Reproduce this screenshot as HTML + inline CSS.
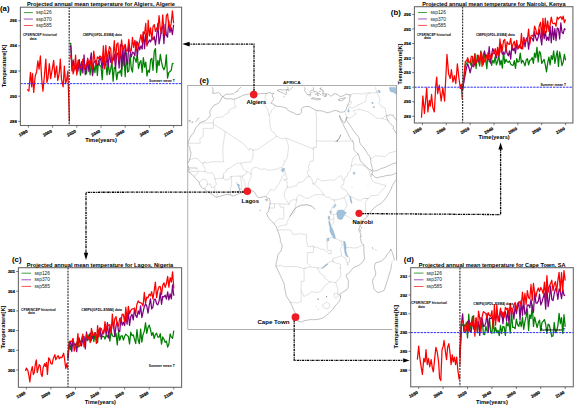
<!DOCTYPE html><html><head><meta charset="utf-8"><style>html,body{margin:0;padding:0;background:#fff;width:575px;height:407px;overflow:hidden;}svg{display:block;}text{font-family:"Liberation Sans", sans-serif;}</style></head><body>
<svg width="575" height="407" viewBox="0 0 575 407">
<rect width="575" height="407" fill="#fff"/>
<defs><clipPath id="mc"><rect x="187.8" y="85.5" width="208.9" height="244"/></clipPath></defs>
<g clip-path="url(#mc)" fill="none" stroke-linejoin="round" stroke-linecap="round">
<g stroke="#b8b8b8" stroke-width="0.42">
<path d="M234.15 99.36L234.61 100.63L234.76 105.09L236.29 107L231.09 108.91L228.64 110.19L228.94 112.73L225.27 114.33L223.13 116.87L216.7 117.51L213.43 119.74L213.43 123.02"/>
<path d="M213.43 123.02L199.66 123.02"/>
<path d="M213.43 123.02L213.43 128.34L203.24 128.34L203.24 136.46L199.87 138.69L200.18 143.21L188.09 143.21"/>
<path d="M213.43 124.2L225.18 131.53"/>
<path d="M225.18 131.53L222.82 147.45L223.13 158.6L223.74 161.78L211.5 161.78L207.22 163.06L204.46 162.1"/>
<path d="M204.46 162.1L202.02 163.38L198.96 159.87L196.2 158.28L193.75 158.28L189.47 159.87"/>
<path d="M266.28 93.46L265.66 94.9L265.05 97.13L265.36 99.04L263.83 102.22L262.91 103.5L265.05 105.41L267.5 108.91L269.03 114.96"/>
<path d="M275.15 105.41L274.54 107.64L271.48 110.19L271.17 112.42L269.03 114.96"/>
<path d="M269.03 114.96L269.95 118.79L269.64 122.61L270.25 126.75L271.17 130.57L275.15 133.75L276.68 136.3"/>
<path d="M276.68 136.3L257.71 149.36L252.97 150.16"/>
<path d="M252.97 150.16L250.06 148.09L249.45 150.32L246.08 146.81L243.63 143.95L225.18 131.53"/>
<path d="M252.97 150.16L252.97 157.32L250.67 162.1L243.94 162.42L240.66 163.38"/>
<path d="M240.66 163.38L237.82 163.06L234.15 164.97L230.47 167.83L226.8 169.11L226.5 171.34L223.44 173.57L223.13 178.03"/>
<path d="M240.66 163.38L243.02 168.79L247 171.66L246.08 173.89L242.71 176.12"/>
<path d="M250.98 173.89L251.28 171.34L252.51 168.15L256.18 167.2L260.77 169.43L264.44 168.79L269.34 170.38L276.68 169.11L280.66 167.52L281.58 168.15"/>
<path d="M247.3 171.97L248.53 171.97L250.98 173.89"/>
<path d="M281.58 168.15L287.39 157.32L288.61 146.18L285.86 137.9L282.8 139.17L276.68 136.3"/>
<path d="M285.86 137.9L313.4 149.04"/>
<path d="M316.92 110.5L315.85 111.78L316.46 115.6L316.46 141.08L316.46 147.45L313.4 147.45L313.4 149.04"/>
<path d="M316.46 141.08L336.04 141.08L336.35 141.4L341.55 141.08L352.87 141.08"/>
<path d="M313.4 149.04L313.4 161.15L310.34 161.15L308.5 166.24L309.12 170.7L308.2 171.02L306.97 172.93L308.81 176.12L310.34 177.07"/>
<path d="M287.39 187.26L291.06 187.26L293.82 185.99L296.88 185.67L298.41 182.49L301.47 182.17L304.22 180.57L306.36 177.39L308.81 176.12"/>
<path d="M284.33 169.75L285.55 172.61L286.17 176.12L287.39 179.3L283.41 179.62L287.08 181.53L287.39 187.26"/>
<path d="M283.41 171.34L284.64 174.52L281.88 177.07L280.35 180.89L279.13 183.44L277.29 185.67L275.76 188.86L273.62 190.45L270.56 189.17L269.03 191.72L266.89 195.22L265.97 196.82"/>
<path d="M248.22 191.08L248.22 185.99L248.53 182.17L250.98 178.34L250.98 173.89"/>
<path d="M244.86 191.4L245.47 191.08L244.86 182.49L244.24 180.89L242.41 178.03L242.71 176.12"/>
<path d="M243.63 191.72L241.49 189.17L241.8 185.03L241.18 180.89L240.57 177.71L239.96 176.12"/>
<path d="M242.71 176.12L239.96 176.12L236.9 176.12L231.09 176.43"/>
<path d="M231.09 176.43L231.7 180.89L231.39 185.99L230.17 189.49L230.47 194.91"/>
<path d="M231.09 176.43L228.94 179.62L225.27 179.94L223.13 178.03L220.99 178.66L218.85 178.66L216.7 178.66L214.87 178.98"/>
<path d="M214.87 178.98L215.48 181.21L216.4 184.4L214.56 186.94L214.56 190.13L217.01 193.31L217.01 197.14"/>
<path d="M214.56 186.94L211.2 187.58L210.89 184.08L208.44 184.08L207.22 184.71L204.77 189.17"/>
<path d="M207.22 184.71L207.52 182.49L205.69 179.3L202.02 179.62L199.26 182.49"/>
<path d="M214.87 178.98L213.95 174.84L212.11 172.61L208.14 173.25L205.08 171.66"/>
<path d="M205.08 171.66L198.04 171.02L198.04 172.93L194.06 176.43"/>
<path d="M188.86 171.82L198.04 171.02"/>
<path d="M205.08 171.66L205.08 168.47L202.63 164.65L204.46 162.1"/>
<path d="M188.55 167.83L192.84 167.2L197.73 168.15L197.12 168.79L193.45 168.47L188.86 169.43"/>
<path d="M223.13 178.03L223.74 175.8"/>
<path d="M358.08 153.82L354.4 157L352.87 158.28L351.65 163.38L351.34 165.6"/>
<path d="M351.34 165.6L350.43 170.7L347.98 172.93L346.75 176.75L344.92 177.39L344 180.89L343.69 184.08"/>
<path d="M343.69 184.08L340.94 186.31L342.47 188.86L345.53 189.81L347.98 193.63L349.81 196.5"/>
<path d="M313.09 183.76L315.24 183.12L317.38 178.34L321.66 180.89L325.03 180.57L330.23 179.94L334.21 180.26L337.27 177.71L340.94 175.48L341.55 177.07L343.69 180.89"/>
<path d="M308.81 176.12L310.34 177.07L311.87 179.3L313.09 183.76"/>
<path d="M313.09 183.76L314.93 184.71L316.77 186.31L320.74 190.13L323.19 193.31L323.8 194.91"/>
<path d="M323.8 194.91L320.74 194.59L317.38 194.59L314.62 194.91L311.26 196.5L308.5 198.41L304.83 197.77L302.08 196.18L299.32 194.91L296.88 197.45L296.57 200"/>
<path d="M287.39 187.26L284.94 191.08L284.33 193.95L284.64 197.77L286.17 199.68L288.92 204.14"/>
<path d="M288.92 204.14L290.45 200.96L292.9 199.68L296.57 200"/>
<path d="M269.95 203.82L274.54 203.82L279.74 203.82L284.64 204.14L288.92 204.14"/>
<path d="M268.42 207.97L274.54 207.97L274.54 203.82"/>
<path d="M279.74 203.82L280.35 207.33L283.72 207.01L283.72 211.79L284.02 215.93L283.41 219.11L279.43 218.48L276.68 220.71L273.93 223.57"/>
<path d="M296.88 200L295.65 204.78L294.43 212.74L290.76 214.97L289.53 217.52L287.39 221.34L286.47 224.85L282.8 225.48L279.74 226.12L278.21 227.08"/>
<path d="M277.29 230.26L279.74 229.94L290.45 229.94L292.9 234.4L299.32 234.08L301.16 233.44L302.69 234.4L306.67 234.4L306.67 241.41L307.89 246.82L313.09 245.87L313.4 246.19"/>
<path d="M313.4 246.19L313.4 252.56L307.28 252.56L307.28 263.07L310.95 266.89"/>
<path d="M275.92 266.09L280.96 265.3L283.41 266.57L296.57 266.57L303.91 268.48L310.95 266.89L317.07 267.84"/>
<path d="M303.91 268.48L304.22 281.22L301.16 281.22L301.16 290.14L301.16 301.6L298.1 302.88L293.2 302.56L290.3 302.24"/>
<path d="M301.16 290.14L303.91 296.51L309.12 293.96L311.56 291.73L318.3 292.69L322.27 289.82L324.11 286.32L329.92 281.86"/>
<path d="M329.92 281.86L324.72 278.04L324.72 276.44L320.13 273.26L317.38 267.84"/>
<path d="M317.38 267.84L322.58 268.16L328.39 262.11L332.98 260.84"/>
<path d="M332.98 260.84L332.98 262.11L340.63 264.34L340.33 271.67L340.94 274.85L339.41 278.04L335.74 282.49"/>
<path d="M335.74 282.49L337.88 289.18L337.88 293.64L340.63 296.83"/>
<path d="M329.92 281.86L335.74 282.49"/>
<path d="M313.4 246.19L314.62 247.78L317.38 246.82L319.52 249.05L323.19 249.37L327.17 251.6L328.7 253.83L331.15 253.83L331.15 250.01L328.7 250.64L327.48 249.05L326.86 240.45L328.7 237.9L333.9 237.59"/>
<path d="M333.9 237.59L340.63 241.09L342.16 245.23L340.63 249.37L341.55 255.74L332.37 258.93L332.98 260.84"/>
<path d="M340.94 241.09L344 241.41"/>
<path d="M341.55 255.74L343.69 257.33L345.53 257.65L347.98 265.61L347.67 262.11L349.51 262.11L349.51 257.97L347.98 256.7"/>
<path d="M345.84 247.78L349.81 247.46L354.71 248.1L357.77 247.46L360.52 246.19L363.58 244.59"/>
<path d="M343.69 214.34L355.02 220.71L359.91 226.12"/>
<path d="M330.54 214.34L343.69 214.34"/>
<path d="M333.29 214.65L334.21 218.48L333.29 218.79L334.21 221.98L331.45 225.16L329.92 225.48"/>
<path d="M328.7 215.93L329.01 218.48L329.31 221.66"/>
<path d="M328.7 220.07L331.15 220.07L333.29 218.79"/>
<path d="M344 197.77L345.53 200L347.06 205.42L345.22 208.6L344.31 210.19L343.69 214.34"/>
<path d="M334.21 200L337.57 199.68L340.94 198.73L344 197.77"/>
<path d="M334.21 200L334.82 203.51L332.07 207.33L330.84 210.83L330.54 214.34"/>
<path d="M349.81 196.5L352.87 197.14L356.55 199.68L360.83 200.32L362.97 198.41L365.42 198.41L368.17 198.41"/>
<path d="M365.42 198.41L368.17 198.73L365.42 202.23L365.42 214.02L367.26 216.56"/>
<path d="M349.81 196.5L347.98 193.95L344 197.77"/>
<path d="M368.48 198.41L371.54 195.54L374.6 195.54L377.66 195.22L386.23 185.67L374.6 182.49L371.85 179.94L370.93 176.43"/>
<path d="M370.93 176.43L369.7 174.52L369.7 171.34L365.42 166.56L362.36 164.97L359.3 164.65L357.46 165.29L355.93 163.69L353.18 165.6L351.34 165.6"/>
<path d="M370.93 176.43L372.15 174.52"/>
<path d="M369.7 171.34L371.85 170.7"/>
<path d="M323.8 194.91L326.86 197.45L329.31 197.14L331.76 199.68L334.21 200"/>
<path d="M322.58 305.43L324.11 303.51L327.17 302.24L329.31 303.51L329.92 306.06L328.39 308.29L325.95 308.61L323.8 307.66L322.58 305.43"/>
<path d="M334.21 293.96L335.74 293L337.57 293.64L338.19 296.51L335.43 298.1L334.21 296.51L334.21 293.96"/>
<path d="M344.76 111.46L346.75 117.19"/>
<path d="M347.06 117.51L350.12 118.15L353.18 115.92L356.24 114.01L353.18 110.82L359.3 109.23"/>
<path d="M348.9 111.78L348.59 109.55L348.9 107L349.51 107L352.57 108.27L358.69 104.77"/>
<path d="M358.69 104.77L365.42 101.59L366.34 97.76L366.03 95.22L369.7 92.99"/>
<path d="M350.12 96.81L351.96 93.94L356.85 93.62L362.36 93.94L365.42 92.99L369.7 92.99"/>
<path d="M349.81 100.95L351.96 102.22L349.51 105.09L347.37 105.73"/>
<path d="M359.3 109.23L368.79 112.1L376.74 118.15L382.25 118.47"/>
<path d="M382.25 118.47L385.92 115.28L386.84 115.6"/>
<path d="M382.25 118.47L388.06 120.38"/>
<path d="M386.84 115.6L385.92 112.42L385 107.96L381.03 106.05L378.88 103.18L380.11 99.99L378.88 96.81L377.05 92.67"/>
<path d="M369.7 92.99L377.05 92.67"/>
<path d="M377.05 92.67L375.82 89.16L375.52 87.57"/>
<path d="M370.93 158.92L375.21 155.73L381.64 156.37L385.31 156.69L389.29 152.86L396.02 151.27L399.08 150.63"/>
</g>
<g stroke="#6a6a6a" stroke-width="0.5">
<path d="M289.84 216.25L291.98 213.06L294.12 209.56L296.88 207.01L301.77 205.1L307.28 204.78L312.18 206.37L314.93 209.24"/>
</g>
<g stroke="#555" stroke-width="0.6">
<path d="M340.63 135.03L339.72 137.26L338.8 138.85L337.88 140.12L336.04 141.4"/>
</g>
<g stroke="#767676" stroke-width="0.45">
<path d="M339.56 115.76L339.72 116.87L340.02 118.15L341.25 120.86L342.47 122.93L343.39 124.36L343.85 125.95L344.92 128.02L346.75 131.37L348.59 135.03L349.2 136.3L350.73 139.17L351.96 140.44L352.87 141.08L353.79 144.26L353.79 148.72L354.25 150.32L355.63 151.91L356.85 153.18L358.08 153.82L359.3 157L360.22 160.51L360.68 161.46L361.75 162.1L362.97 163.69L366.03 166.24L367.56 168.15L369.4 169.43L370.62 169.75L371.85 170.7L372.46 171.66L372.46 173.25L370.93 174.2L372 174.36L373.07 175.16L375.21 177.39L377.66 177.87L380.11 176.75L382.56 176.75L385.31 175.8L388.06 175.32L390.51 175.16L393.27 174.52L395.41 173.25L396.85 173.47L396.63 177.71L397.24 178.03L395.41 180.89L394.18 182.49L392.35 185.67L391.12 188.86L389.59 192.04L388.37 194.11L386.23 197.45L383.47 200.96L380.72 203.82L378.73 204.62L376.44 206.05L373.38 208.6L370.16 212.26L367.26 216.56L365.11 218.48L362.97 220.07L362.67 221.34L361.29 224.05L359.91 226.12L359.61 227.39L358.69 230.26L360.22 232.81L360.83 235.04L360.22 237.59L360.83 239.5L361.44 243L363.89 245.23L363.89 247.78L363.89 252.56L364.5 257.33L364.2 259.56L362.05 262.75L358.99 265.3L355.02 266.89L352.87 268.16L350.73 271.03L348.59 273.26L346.6 274.37L346.14 276.44L347.67 278.99L348.59 281.54L348.28 284.4L348.28 287.11L347.06 289.5L343.39 291.73L340.63 293.64L339.72 293.8L340.63 295.87L340.33 298.74L339.41 301.29L338.03 302.88L336.35 304.47L334.82 306.22L333.14 309.09L331.45 310.84L328.7 313.39L325.33 316.25L322.58 318.17L320.74 318.64L318.3 319.28L316.46 319.44L313.4 319.76L311.56 319.44L307.74 320.08L304.22 320.71L301.16 322.08L299.02 321.35L297.49 320.71L296.48 320.59L296.26 319.44L296.33 319.19L295.65 317.53L294.89 316.25L295.96 314.98L295.04 312.43L292.9 308.29L291.67 305.11L290.3 302.24L288 298.74L286.32 296.03L285.55 292.37L284.33 286L284.33 284.25L282.65 280.42L280.35 275.49L278.21 271.03L275.92 266.09L276.07 263.7L277.14 259.56L277.6 255.74L279.43 252.56L280.96 251.12L281.88 247.78L282.19 245.23L280.35 241.41L280.35 239.18L279.43 235.67L277.6 230.26L277.29 229.62L276.22 226.44L273.62 223.25L272.55 221.98L269.64 219.43L267.5 215.93L266.58 213.22L268.42 211.79L268.88 209.88L269.34 207.97L269.8 205.26L270.25 201.75L269.64 199.68L269.34 198.25L267.5 198.09L265.97 196.82L265.36 196.5L261.84 197.14L258.63 197.61L256.48 195.86L255.26 193.31L253.42 191.08L250.36 190.61L247.3 190.93L243.63 191.63L241.8 192.68L239.35 193.47L236.29 194.91L233.53 196.02L230.47 194.91L227.72 194.27L224.66 194.91L221.6 195.86L216.4 197.23L213.64 195.54L210.89 193.63L206.91 191.08L204.77 189.17L201.71 187.58L199.42 184.08L199.26 182.49L198.04 180.89L195.59 178.66L194.06 176.43L192.22 174.52L190.39 173.25L188.86 171.97L188.71 169.75L189.16 168.31L188.55 167.2L187.33 164.65L186.41 164.33L187.63 163.69L189.47 160.19L190.39 157L191 153.5L190.08 150L189.47 149.36L190.08 147.77L188.25 145.22L187.79 144.9L187.94 143.31L188.55 141.08L190.08 137.9L191.15 135.67L194.06 132.16L194.67 130.25L195.59 128.02L198.34 125.16L200.49 122.13L204.77 121.01L205.99 120.38L208.75 117.51L209.97 115.92L210.58 114.33L209.82 113.53L209.97 110.82L211.66 108.27L213.95 105.25L216.7 104.13L219 102.86L219.76 101.9L221.14 99.04L221.91 97.13L223.74 96.81L224.97 98.72L228.03 98.88L231.09 98.72L233.23 99.36L235.98 98.72L238.12 97.45L240.27 96.81L243.94 94.9L246.69 94.58L249.14 93.94L252.2 93.62L255.57 94.1L257.71 93.94L261.07 93.62L263.83 93.62L266.89 93.46L270.25 92.35L271.17 93.94L272.4 93.31L273.77 93.05L272.4 95.22L272.55 97.13L273.77 98.08L272.86 100.63L270.87 103.18L273.31 104.13L275.15 105.41L276.99 106.36L280.35 106.36L283.41 107.32L286.17 107.96L287.39 109.87L290.76 111.78L293.51 112.73L296.57 114.64L299.94 114.33L301.47 112.42L301.31 108.91L303 107.32L305.75 106.36L309.12 106.68L310.95 107.64L313.25 108.91L316.92 110.66L321.05 110.82L323.19 111.3L327.17 112.73L331.45 111.78L332.98 110.98L334.82 110.5L337.27 110.82L338.8 111.62"/>
<path d="M338.8 111.62L339.72 112.26L341.86 112.1L343.39 111.94L344.76 111.46L345.53 110.5L346.3 108.91L347.06 106.68L347.37 105.73L348.59 103.18L349.51 101.43L349.81 99.67L349.51 98.08L350.12 96.81L349.81 95.53L350.73 94.58L348.9 94.58L348.28 94.58L345.84 93.94L344 95.53L342.47 96.01L340.33 96.49L338.8 95.85L337.88 94.74L335.74 93.94L333.9 93.62L333.29 94.9L332.07 95.69L330.54 96.01L329.01 94.58L327.48 93.94L326.25 94.26L324.72 93.94L323.8 93.31L323.19 92.35L323.19 90.44L321.05 89.16L320.44 88.21L321.05 87.57"/>
<path d="M339.56 115.76L340.02 116.87L341.55 119.1L342.78 121.33L344.76 122.83L345.22 121.97L345.53 120.38L345.99 118.79L346.75 117.19L347.06 117.03L346.91 117.67L346.45 119.74L347.37 121.65L348.59 123.24L349.2 124.04L351.5 127.54L353.94 131.37L356.39 134.39L358.08 136.3L359.3 138.53L359.76 142.67L361.44 145.54L363.12 146.97L365.57 150.32L367.56 153.82L369.4 156.05L370.16 157.32L370.93 160.51L370.62 162.42L371.39 164.01L371.85 166.24L372.31 168.79L372.92 170.86L374.6 171.02L376.44 170.54L377.66 170.38L379.19 169.75L380.57 168.63L383.78 167.83L386.84 166.56L390.21 164.97L392.96 163.69L396.63 162.74L400.61 160.83"/>
<path d="M397.86 134.71L396.94 133.75L396.02 132.8L395.41 132.32L394.49 130.57L392.96 128.66L393.57 127.7L393.27 126.43L392.04 125.16L390.82 124.2L389.29 122.61L388.06 120.38L387.15 118.79L386.53 117.51L385.92 116.87L386.84 115.76L388.37 115.76L389.9 114.64L391.43 115.28L393.27 115.28L393.88 116.87L395.1 118.15L395.71 119.42L396.94 121.01L399.08 122.61"/>
<path d="M212.42 87.57L213.03 89.16L213.03 90.44L213.03 92.03L212.57 93.31L215.48 93.31L217.32 92.67L218.69 92.67L220.38 93.94L220.68 94.9L221.91 96.17L222.82 96.49L223.59 96.01L224.97 94.9L226.5 94.26L229.25 94.26L232.46 93.85L233.23 94.2L235.06 92.35L236.96 91.39L237.82 91.39L238.43 89.48L239.35 88.53L240.57 87.73L240.88 87.25"/>
<path d="M287.7 87.25L288.31 88.21L287.85 89.32L288 90.28L289.23 90.44L290.76 88.85L292.59 87.25"/>
<path d="M304.53 87.57L305.14 89.16L304.53 90.44L305.14 91.39L306.36 93.31L306.97 93.94L308.5 95.22L308.81 93.94L309.73 94.9L310.95 95.06L310.34 93.31L309.73 91.71L310.95 90.44L311.87 90.12L313.4 90.12L313.71 89.16L313.4 87.57"/>
<path d="M277.9 90.76L278.21 89.8L280.05 89.48L280.96 89.48L282.8 90.12L286.17 89.8L287.85 89.26L286.47 90.92L286.17 92.03L286.78 93.31L286.17 94.42L284.33 93.94L283.41 92.99L281.27 92.35L278.52 91.23L277.9 90.76Z"/>
<path d="M311.87 98.72L312.18 97.76L314.32 97.92L316.46 98.4L318.91 98.72L320.44 98.72L320.13 99.67L316.46 99.83L313.4 99.04L311.87 98.72Z"/>
<path d="M338.8 99.99L338.8 99.36L340.94 98.56L344 98.08L345.68 97.45L344 99.52L340.94 100.95L339.1 100.47L338.8 99.99Z"/>
<path d="M324.72 96.17L326.25 95.06L326.25 96.17L325.03 96.81L324.72 96.17Z"/>
<path d="M390.82 249.37L391.74 250.96L392.65 253.51L393.57 256.7L394.49 259.88L393.57 261.79L392.35 260.84L392.04 263.7L391.12 266.25L391.12 268.48L389.9 271.67L388.68 276.44L386.84 281.86L385.62 286L384.09 290.46L381.64 291.41L377.97 292.69L375.52 290.77L373.99 289.18L373.38 285.36L372.46 281.86L373.07 278.99L374.91 276.44L375.82 273.26L374.6 268.48L374.6 265.3L375.82 262.75L378.27 262.11L381.03 261.15L383.78 258.93L386.23 256.7L386.84 254.47L389.29 252.24L390.82 249.37Z"/>
<path d="M283.72 96.65L284.48 96.97"/>
<path d="M314.62 92.03L314.93 92.19"/>
<path d="M317.07 93.15L317.84 92.99"/>
<path d="M317.38 93.62L317.99 93.78"/>
<path d="M316.15 94.1L316.77 94.26"/>
<path d="M320.44 94.58L321.05 94.74"/>
<path d="M322.58 95.06L323.5 95.22"/>
<path d="M322.27 93.62L322.89 93.46"/>
<path d="M313.4 91.39L314.01 91.55"/>
<path d="M311.56 92.35L312.18 92.51"/>
<path d="M309.73 95.85L310.34 96.01"/>
<path d="M317.68 95.22L318.6 95.38"/>
<path d="M319.52 91.39L320.44 91.08"/>
<path d="M325.33 94.26L325.95 94.1"/>
<path d="M316.15 91.71L316.77 92.03"/>
<path d="M317.68 92.99L318.3 93.31"/>
<path d="M314.62 91.08L315.24 91.39"/>
<path d="M319.21 93.62L319.83 93.94"/>
<path d="M322.27 91.08L322.89 91.39"/>
<path d="M321.05 89.48L319.83 88.85L320.44 88.21"/>
<path d="M315.24 94.26L315.85 94.58"/>
<path d="M317.38 95.22L317.99 95.53"/>
<path d="M322.89 93.62L323.5 93.94"/>
<path d="M197.43 119.1L198.96 118.15"/>
<path d="M195.9 121.65L197.43 119.74"/>
<path d="M191.61 122.29L192.84 121.65L192.53 122.61"/>
<path d="M188.25 121.01L190.39 120.06L189.78 121.97"/>
<path d="M265.82 199.37L267.19 199.21L267.35 200.64L266.28 200.96L265.82 199.37"/>
<path d="M359.91 229.46L360.83 231.53"/>
<path d="M361.29 226.76L361.75 228.35"/>
<path d="M361.14 235.99L361.75 236.63"/>
<path d="M372.46 247.46L373.07 249.05"/>
<path d="M375.52 249.69L376.13 250.33"/>
<path d="M259.85 211.15L260.46 209.88"/>
</g>
<g fill="#9fc2df" stroke="#6f93b5" stroke-width="0.35">
<path d="M336.66 213.06L337.88 210.51L339.72 210.19L341.86 209.88L344 210.83L344.31 212.11L346.45 212.58L344.92 214.34L343.39 216.56L342.47 218.79L340.94 219.43L338.49 219.11L337.27 216.88L336.96 214.34Z"/>
<path d="M329.01 221.66L329.92 221.98L330.54 225.48L332.37 228.67L333.6 231.85L334.51 234.4L335.43 238.22L334.51 238.86L333.29 237.27L331.45 234.4L329.92 230.9L329.92 227.08L329.01 223.89Z"/>
<path d="M344 241.41L344.92 241.73L345.84 244.59L346.14 247.78L345.84 250.64L346.75 254.15L347.98 256.7L347.37 257.01L345.53 255.1L344.92 252.56L344.31 249.37L344 246.19L343.69 243.64Z"/>
<path d="M350.12 196.5L350.73 197.14L351.34 200L351.96 202.23L351.65 203.51L350.73 201.59L350.12 199.05Z"/>
<path d="M333.29 207.33L335.74 204.14L336.04 205.1L333.9 207.97Z"/>
<path d="M330.23 211.47L331.45 211.47L331.15 213.06L330.23 212.74Z"/>
<path d="M328.7 216.56L329.62 216.56L329.62 219.11L328.39 218.79Z"/>
<path d="M327.17 238.54L328.7 238.22L329.01 240.45L327.78 241.09Z"/>
<path d="M321.97 268.16L324.11 265.93L327.17 264.02L328.09 263.7L326.56 265.3L323.19 267.84Z"/>
<path d="M239.65 191.08L240.27 188.86L239.04 187.26L239.35 184.71L236.9 183.76L238.12 186.31L239.04 188.86Z"/>
<path d="M281.27 170.38L282.8 168.15L284.64 168.47L284.02 170.38L282.8 171.66Z"/>
<path d="M353.49 172.29L354.71 172.29L355.02 173.89L353.79 174.2Z"/>
<path d="M389.59 87.57L389.59 88.85L389.9 90.12L390.51 91.39L392.65 92.03L394.18 92.83L396.02 94.1L399.08 94.58L399.08 87.57Z"/>
<path d="M377.97 90.44L379.5 90.44L380.41 92.03L379.5 92.99L378.58 92.03Z"/>
<path d="M348.28 109.87L348.9 109.87L348.74 112.1L348.28 112.1Z"/>
<path d="M371.85 102.54L373.07 102.54L373.07 103.82L372.15 103.5Z"/>
<path d="M373.38 106.68L374.6 106.68L374.29 107.64L373.38 107.32Z"/>
</g>
<circle cx="318.1" cy="299.1" r="0.6" fill="#444"/>
<circle cx="326.5" cy="296.7" r="0.5" fill="#444"/>
<circle cx="318.6" cy="308.9" r="0.3" fill="#444"/>
<circle cx="316.2" cy="306.5" r="0.3" fill="#444"/>
<circle cx="337.3" cy="141" r="0.4" fill="#444"/>
<circle cx="236.6" cy="182.5" r="0.35" fill="#444"/>
<circle cx="284" cy="161" r="0.3" fill="#444"/>
<circle cx="352" cy="187" r="0.3" fill="#444"/>
<circle cx="368" cy="186" r="0.25" fill="#444"/>
<circle cx="303" cy="200" r="0.25" fill="#444"/>
<circle cx="340" cy="268" r="0.3" fill="#444"/>
<circle cx="305" cy="268" r="0.25" fill="#444"/>
</g>
<rect x="187.8" y="85.5" width="208.9" height="244" fill="none" stroke="#8c8c8c" stroke-width="0.7"/>
<text x="199.4" y="82.9" font-size="7.8" font-weight="bold">(e)</text>
<text x="282.9" y="84.1" font-size="3.9" font-weight="bold" textLength="17.7" lengthAdjust="spacingAndGlyphs">AFRICA</text>
<rect x="392.3" y="260.5" width="12" height="73" fill="#fff"/>
<g>
<defs><clipPath id="ca"><rect x="20.4" y="7.2" width="161.2" height="118.3"/></clipPath></defs>
<g clip-path="url(#ca)" fill="none" stroke-linejoin="round">
<polyline stroke="#ff0000" stroke-width="1.25" points="27.19,89.32 28.88,91.2 30.46,72.32 31.67,86.8 32.51,73.58 33.72,92.46 35.18,76.1 36.63,71.69 37.84,60.99 39.05,69.17 40.38,55.95 41.59,77.36 42.92,91.2 44.25,77.36 45.82,59.1 46.91,82.39 47.88,78.61 49.33,63.51 50.66,78.61 51.87,71.69 53.69,60.36 54.9,77.36 56.59,66.02 57.8,80.5 59.25,72.95 60.34,59.1 61.55,79.87 63.13,86.8 64.34,66.02 65.55,83.65 66.64,79.87 67.85,71.06 68.45,89.95 69.42,121.42"/>
<polyline stroke="#008000" stroke-width="1.25" points="70.02,43.36 70.75,43.33 71.96,64.31 73.17,68.83 74.38,69.28 75.59,65.93 76.8,73.17 78.01,63.25 79.22,59.71 80.43,75.26 81.64,68.7 82.85,63.19 84.06,66.3 85.27,67.24 86.48,73.84 87.69,62.59 88.9,62.89 90.11,74.78 91.32,61.56 92.53,74.33 93.74,65.51 94.95,72.54 96.16,61.41 97.37,75.44 98.58,60.51 99.79,65.67 101,66.16 102.21,79.62 103.42,60.37 104.63,65.42 105.84,64.39 107.05,74.88 108.26,62.56 109.47,74.33 110.68,69.41 111.89,61.47 113.1,81.09 114.31,67.69 115.52,68.07 116.73,79.7 117.94,72.09 119.15,72.86 120.36,70.23 121.57,76.13 122.78,56.94 123.99,57.9 125.2,76.64 126.41,52.99 127.62,72.09 128.83,71.05 130.04,54.57 131.25,68.31 132.46,72.13 133.67,56.54 134.88,58.38 136.09,62.39 137.3,54.57 138.51,68.54 139.72,62.78 140.93,60.57 142.14,72.33 143.35,57.54 144.56,67.25 145.77,62.06 146.98,76 148.19,70.22 149.4,72.26 150.61,59.71 151.82,58.33 153.03,70.32 154.24,51.37 155.45,48.58 156.66,72.49 157.87,60.35 159.08,65.56 160.29,54.45 161.5,61.91 162.71,67.09 163.92,69.83 165.13,66.56 166.34,54.86 167.55,78.18 168.76,72.68 169.97,71.47 171.18,70.35 172.39,63.68 173.6,63.36"/>
<polyline stroke="#800080" stroke-width="1.25" points="70.02,45.88 70.75,46.11 71.96,70.92 73.17,59.97 74.38,69.02 75.59,68.35 76.8,64.18 78.01,71.18 79.22,59.9 80.43,69.21 81.64,61.61 82.85,72.98 84.06,54.94 85.27,74.68 86.48,67.06 87.69,60.14 88.9,71.51 90.11,60.55 91.32,52.87 92.53,75.74 93.74,63 94.95,61.13 96.16,60.63 97.37,65.93 98.58,63.36 99.79,56.99 101,60.9 102.21,68.01 103.42,56.35 104.63,60.82 105.84,64.86 107.05,55.93 108.26,66.82 109.47,51.53 110.68,62.4 111.89,58.07 113.1,60.37 114.31,54.42 115.52,68.36 116.73,53.97 117.94,53 119.15,68.05 120.36,44.69 121.57,69.49 122.78,45.41 123.99,65.76 125.2,45.75 126.41,59.45 127.62,64.32 128.83,43.56 130.04,51.47 131.25,57.21 132.46,52.09 133.67,52.72 134.88,55.81 136.09,41.41 137.3,56.72 138.51,44.65 139.72,49.81 140.93,45.92 142.14,49.14 143.35,32.16 144.56,48.67 145.77,34.08 146.98,44.73 148.19,42.7 149.4,40 150.61,41.87 151.82,37.64 153.03,39.7 154.24,36.51 155.45,45.02 156.66,35.62 157.87,23.45 159.08,43.9 160.29,37.55 161.5,28.01 162.71,26.19 163.92,43.71 165.13,24.29 166.34,34.9 167.55,37.16 168.76,20.7 169.97,32.33 171.18,27.63 172.39,34.7 173.6,24.77"/>
<polyline stroke="#ff0000" stroke-width="1.25" points="70.02,55.95 70.75,55.96 71.96,62.87 73.17,73.91 74.38,69.08 75.59,55.03 76.8,75.06 78.01,60.45 79.22,67.07 80.43,67.49 81.64,66.53 82.85,59.04 84.06,69.06 85.27,64.86 86.48,65.49 87.69,58.14 88.9,64.1 90.11,60.47 91.32,67.21 92.53,68.6 93.74,51.09 94.95,60.23 96.16,64.75 97.37,56.94 98.58,58.28 99.79,55.93 101,56.84 102.21,61.9 103.42,45.82 104.63,68.79 105.84,45.42 107.05,60.09 108.26,53.09 109.47,46.67 110.68,48.85 111.89,64.06 113.1,55.47 114.31,40.74 115.52,61.87 116.73,44.07 117.94,42.85 119.15,60.55 120.36,54.18 121.57,39.95 122.78,50.09 123.99,47.97 125.2,44.3 126.41,51.15 127.62,50.47 128.83,39.28 130.04,51.33 131.25,51 132.46,37.47 133.67,47.53 134.88,40.36 136.09,50.7 137.3,41.92 138.51,46.12 139.72,40.53 140.93,34.58 142.14,42.65 143.35,31.97 144.56,33.8 145.77,23.27 146.98,46.02 148.19,20.21 149.4,35.84 150.61,27.94 151.82,40.25 153.03,26.65 154.24,24.63 155.45,31.43 156.66,27.97 157.87,30.02 159.08,15.72 160.29,28.71 161.5,33.55 162.71,14.89 163.92,31.2 165.13,35.33 166.34,15.82 167.55,13.8 168.76,25.47 169.97,28.99 171.18,23.43 172.39,10.87 173.6,23.24"/>
</g>
<line x1="20.4" y1="83.65" x2="181.6" y2="83.65" stroke="#2a2aff" stroke-width="1.0" stroke-dasharray="2.3,1.0"/>
<line x1="69.2" y1="7.2" x2="69.2" y2="125.5" stroke="#333" stroke-width="1.2" stroke-dasharray="1.9,1.05"/>
<rect x="20.4" y="7.2" width="161.2" height="118.3" fill="none" stroke="#6a6a6a" stroke-width="1.1"/>
<line x1="18.2" y1="20.7" x2="20.4" y2="20.7" stroke="#444" stroke-width="0.7"/>
<text x="17" y="22.25" font-size="4.4" font-weight="bold" text-anchor="end" stroke="#000" stroke-width="0.12">296</text>
<line x1="18.2" y1="45.88" x2="20.4" y2="45.88" stroke="#444" stroke-width="0.7"/>
<text x="17" y="47.43" font-size="4.4" font-weight="bold" text-anchor="end" stroke="#000" stroke-width="0.12">294</text>
<line x1="18.2" y1="71.06" x2="20.4" y2="71.06" stroke="#444" stroke-width="0.7"/>
<text x="17" y="72.61" font-size="4.4" font-weight="bold" text-anchor="end" stroke="#000" stroke-width="0.12">292</text>
<line x1="18.2" y1="96.24" x2="20.4" y2="96.24" stroke="#444" stroke-width="0.7"/>
<text x="17" y="97.79" font-size="4.4" font-weight="bold" text-anchor="end" stroke="#000" stroke-width="0.12">290</text>
<line x1="18.2" y1="121.42" x2="20.4" y2="121.42" stroke="#444" stroke-width="0.7"/>
<text x="17" y="122.97" font-size="4.4" font-weight="bold" text-anchor="end" stroke="#000" stroke-width="0.12">288</text>
<line x1="28.4" y1="125.5" x2="28.4" y2="127.7" stroke="#444" stroke-width="0.7"/>
<text transform="translate(28 132) rotate(-30)" x="0" y="0" font-size="4.3" font-weight="bold" text-anchor="end" stroke="#000" stroke-width="0.15">1980</text>
<line x1="52.6" y1="125.5" x2="52.6" y2="127.7" stroke="#444" stroke-width="0.7"/>
<text transform="translate(52.2 132) rotate(-30)" x="0" y="0" font-size="4.3" font-weight="bold" text-anchor="end" stroke="#000" stroke-width="0.15">2000</text>
<line x1="76.8" y1="125.5" x2="76.8" y2="127.7" stroke="#444" stroke-width="0.7"/>
<text transform="translate(76.4 132) rotate(-30)" x="0" y="0" font-size="4.3" font-weight="bold" text-anchor="end" stroke="#000" stroke-width="0.15">2020</text>
<line x1="101" y1="125.5" x2="101" y2="127.7" stroke="#444" stroke-width="0.7"/>
<text transform="translate(100.6 132) rotate(-30)" x="0" y="0" font-size="4.3" font-weight="bold" text-anchor="end" stroke="#000" stroke-width="0.15">2040</text>
<line x1="125.2" y1="125.5" x2="125.2" y2="127.7" stroke="#444" stroke-width="0.7"/>
<text transform="translate(124.8 132) rotate(-30)" x="0" y="0" font-size="4.3" font-weight="bold" text-anchor="end" stroke="#000" stroke-width="0.15">2060</text>
<line x1="149.4" y1="125.5" x2="149.4" y2="127.7" stroke="#444" stroke-width="0.7"/>
<text transform="translate(149 132) rotate(-30)" x="0" y="0" font-size="4.3" font-weight="bold" text-anchor="end" stroke="#000" stroke-width="0.15">2080</text>
<line x1="173.6" y1="125.5" x2="173.6" y2="127.7" stroke="#444" stroke-width="0.7"/>
<text transform="translate(173.2 132) rotate(-30)" x="0" y="0" font-size="4.3" font-weight="bold" text-anchor="end" stroke="#000" stroke-width="0.15">2100</text>
<text x="0" y="11.3" font-size="7.8" font-weight="bold">(a)</text>
<text x="27" y="5.6" font-size="5.1" font-weight="bold" textLength="148" lengthAdjust="spacingAndGlyphs">Projected annual mean temperature for Algiers, Algerie</text>
<line x1="23.8" y1="12.6" x2="32.9" y2="12.6" stroke="#40a040" stroke-width="1.0"/>
<text x="36" y="14.2" font-size="4.8" fill="#222" textLength="15.6" lengthAdjust="spacingAndGlyphs">ssp126</text>
<line x1="23.8" y1="19.05" x2="32.9" y2="19.05" stroke="#a050c0" stroke-width="1.0"/>
<text x="36" y="20.65" font-size="4.8" fill="#222" textLength="15.6" lengthAdjust="spacingAndGlyphs">ssp370</text>
<line x1="23.8" y1="25.5" x2="32.9" y2="25.5" stroke="#ff5050" stroke-width="1.0"/>
<text x="36" y="27.1" font-size="4.8" fill="#222" textLength="15.6" lengthAdjust="spacingAndGlyphs">ssp585</text>
<text x="23" y="36.4" font-size="3.3" font-weight="bold" textLength="33.9" lengthAdjust="spacingAndGlyphs">CFSR/NCEP historical</text>
<text x="29.7" y="39.6" font-size="3.3" font-weight="bold">data</text>
<text x="82.7" y="36.2" font-size="3.3" font-weight="bold" textLength="39.1" lengthAdjust="spacingAndGlyphs">CMIP6(GFDL-ESM4) data</text>
<text x="149" y="82.4" font-size="3.3" font-weight="bold" textLength="25.7" lengthAdjust="spacingAndGlyphs">Summer mean T</text>
<text transform="translate(6 65.9) rotate(-90)" x="0" y="0" font-size="4.7" font-weight="bold" text-anchor="middle" textLength="42.8" lengthAdjust="spacingAndGlyphs">Temperature[K]</text>
<text x="85.2" y="142.1" font-size="5.0" font-weight="bold" textLength="31.7" lengthAdjust="spacingAndGlyphs">Time(years)</text>
</g>
<g>
<defs><clipPath id="cb"><rect x="414.4" y="6.7" width="158.5" height="116.3"/></clipPath></defs>
<g clip-path="url(#cb)" fill="none" stroke-linejoin="round">
<polyline stroke="#ff0000" stroke-width="1.25" points="421.45,117.78 422.88,95.94 424.43,113.41 425.38,103.22 426.7,87.93 427.89,111.95 429.32,100.3 430.28,106.13 431.59,94.48 432.78,107.58 434.33,111.95 435.77,85.74 436.72,77.01 437.67,93.75 439.23,85.02 441.14,101.03 442.81,87.93 444.6,101.03 446.98,54.44 448.65,74.1 450.2,78.46 451.4,69.73 452.95,82.1 454.38,75.55 455.81,83.56 457.36,63.9 458.8,77.01 460.35,88.66 461.3,84.29 462.26,99.58"/>
<polyline stroke="#008000" stroke-width="1.25" points="462.5,90.11 464.17,76.99 465.36,64.99 466.55,64.03 467.75,60.7 468.94,62.01 470.13,62.64 471.33,65.9 472.52,57.39 473.71,64.95 474.91,53.63 476.1,68.53 477.29,55 478.49,61.15 479.68,65.98 480.87,50.8 482.07,59.82 483.26,64.77 484.45,53.16 485.65,59.62 486.84,68.58 488.03,52.26 489.23,61.72 490.42,58.87 491.61,65.43 492.81,60.19 494,63.1 495.19,56.59 496.39,64.81 497.58,61.53 498.77,54.81 499.97,65.05 501.16,60.27 502.35,68.07 503.55,51.77 504.74,63.38 505.93,59.37 507.13,61.64 508.32,62.24 509.51,60.87 510.71,64.19 511.9,65.07 513.09,65.33 514.29,60.56 515.48,68.31 516.67,58.57 517.87,62.19 519.06,61.53 520.25,53.19 521.45,63.08 522.64,60.28 523.83,62.68 525.03,65.77 526.22,59.95 527.41,58.61 528.61,64.83 529.8,60.43 530.99,59.73 532.19,57.48 533.38,63.32 534.57,53.03 535.77,57.68 536.96,47.25 538.15,61.84 539.35,51.34 540.54,53.36 541.73,63.36 542.93,61.3 544.12,59.44 545.31,64.92 546.51,71.8 547.7,62.58 548.89,57.01 550.09,64.82 551.28,55.73 552.47,59.5 553.67,50.95 554.86,63.32 556.05,56.65 557.25,50.75 558.44,66.33 559.63,51.82 560.83,58.43 562.02,65.61 563.21,62.12 564.41,54.35 565.6,60.36"/>
<polyline stroke="#800080" stroke-width="1.25" points="462.5,90.11 464.17,80.04 465.36,73.82 466.55,67.34 467.75,63.87 468.94,67.7 470.13,72.87 471.33,67.47 472.52,65.81 473.71,62.37 474.91,65.31 476.1,60.36 477.29,60.33 478.49,61.36 479.68,58.14 480.87,57.78 482.07,59.95 483.26,55.81 484.45,50.84 485.65,56.31 486.84,55.19 488.03,59.6 489.23,46.55 490.42,63.07 491.61,54.4 492.81,48.49 494,51.97 495.19,54.24 496.39,57.81 497.58,49.64 498.77,56.46 499.97,48.47 501.16,44.6 502.35,54.18 503.55,53.31 504.74,54.07 505.93,48.51 507.13,53.29 508.32,55.79 509.51,50.87 510.71,59.05 511.9,45.78 513.09,50.67 514.29,48.09 515.48,53.5 516.67,43.89 517.87,49.02 519.06,45.76 520.25,44.42 521.45,48.87 522.64,46.33 523.83,37.46 525.03,46.96 526.22,39.14 527.41,37.35 528.61,49.22 529.8,38.43 530.99,37.6 532.19,38.47 533.38,41.18 534.57,31.69 535.77,37.82 536.96,40.85 538.15,37.33 539.35,29.91 540.54,37.25 541.73,44.94 542.93,27.73 544.12,38.8 545.31,31.46 546.51,40.38 547.7,37.2 548.89,40.51 550.09,26.46 551.28,42.8 552.47,26.29 553.67,39.7 554.86,28.59 556.05,40.66 557.25,28 558.44,28.74 559.63,39.05 560.83,22.89 562.02,32.29 563.21,33.6 564.41,28.67 565.6,29.62"/>
<polyline stroke="#ff0000" stroke-width="1.25" points="462.5,88.66 464.17,74.29 465.36,61.42 466.55,60.78 467.75,57.75 468.94,62.65 470.13,62.67 471.33,56.25 472.52,56.28 473.71,66.95 474.91,54.22 476.1,63.23 477.29,60.87 478.49,55.45 479.68,63.72 480.87,52 482.07,66.43 483.26,53.89 484.45,61.81 485.65,60.43 486.84,54.82 488.03,59.84 489.23,52.74 490.42,57.37 491.61,58.55 492.81,52.99 494,53.29 495.19,48.68 496.39,55.81 497.58,47.36 498.77,55.28 499.97,38.76 501.16,52.64 502.35,49.46 503.55,40.73 504.74,39.42 505.93,51.41 507.13,41.93 508.32,43.86 509.51,44.42 510.71,38.29 511.9,48.24 513.09,43.95 514.29,41.33 515.48,48.91 516.67,40.39 517.87,48.07 519.06,46.38 520.25,48.14 521.45,33.47 522.64,48.99 523.83,38.46 525.03,42.26 526.22,40.35 527.41,39.27 528.61,29.05 529.8,44.1 530.99,36.02 532.19,35.18 533.38,36.97 534.57,26.17 535.77,29.36 536.96,34.58 538.15,33.25 539.35,25.58 540.54,22.42 541.73,37.47 542.93,18.27 544.12,33.49 545.31,18.06 546.51,32.19 547.7,21 548.89,31.27 550.09,24.72 551.28,17.08 552.47,23.06 553.67,23.7 554.86,23.08 556.05,26.23 557.25,17.13 558.44,19.05 559.63,17.23 560.83,16.71 562.02,19.58 563.21,16.19 564.41,22.58 565.6,19.42"/>
</g>
<line x1="414.4" y1="87.2" x2="572.9" y2="87.2" stroke="#2a2aff" stroke-width="1.0" stroke-dasharray="2.3,1.0"/>
<line x1="462.6" y1="6.7" x2="462.6" y2="123" stroke="#333" stroke-width="1.2" stroke-dasharray="1.9,1.05"/>
<rect x="414.4" y="6.7" width="158.5" height="116.3" fill="none" stroke="#6a6a6a" stroke-width="1.1"/>
<line x1="412.2" y1="14.4" x2="414.4" y2="14.4" stroke="#444" stroke-width="0.7"/>
<text x="411" y="15.95" font-size="4.4" font-weight="bold" text-anchor="end" stroke="#000" stroke-width="0.12">296</text>
<line x1="412.2" y1="28.96" x2="414.4" y2="28.96" stroke="#444" stroke-width="0.7"/>
<text x="411" y="30.51" font-size="4.4" font-weight="bold" text-anchor="end" stroke="#000" stroke-width="0.12">295</text>
<line x1="412.2" y1="43.52" x2="414.4" y2="43.52" stroke="#444" stroke-width="0.7"/>
<text x="411" y="45.07" font-size="4.4" font-weight="bold" text-anchor="end" stroke="#000" stroke-width="0.12">294</text>
<line x1="412.2" y1="58.08" x2="414.4" y2="58.08" stroke="#444" stroke-width="0.7"/>
<text x="411" y="59.63" font-size="4.4" font-weight="bold" text-anchor="end" stroke="#000" stroke-width="0.12">293</text>
<line x1="412.2" y1="72.64" x2="414.4" y2="72.64" stroke="#444" stroke-width="0.7"/>
<text x="411" y="74.19" font-size="4.4" font-weight="bold" text-anchor="end" stroke="#000" stroke-width="0.12">292</text>
<line x1="412.2" y1="87.2" x2="414.4" y2="87.2" stroke="#444" stroke-width="0.7"/>
<text x="411" y="88.75" font-size="4.4" font-weight="bold" text-anchor="end" stroke="#000" stroke-width="0.12">291</text>
<line x1="412.2" y1="101.76" x2="414.4" y2="101.76" stroke="#444" stroke-width="0.7"/>
<text x="411" y="103.31" font-size="4.4" font-weight="bold" text-anchor="end" stroke="#000" stroke-width="0.12">290</text>
<line x1="412.2" y1="116.32" x2="414.4" y2="116.32" stroke="#444" stroke-width="0.7"/>
<text x="411" y="117.87" font-size="4.4" font-weight="bold" text-anchor="end" stroke="#000" stroke-width="0.12">289</text>
<line x1="422.4" y1="123" x2="422.4" y2="125.2" stroke="#444" stroke-width="0.7"/>
<text transform="translate(422 129.5) rotate(-30)" x="0" y="0" font-size="4.3" font-weight="bold" text-anchor="end" stroke="#000" stroke-width="0.15">1980</text>
<line x1="446.27" y1="123" x2="446.27" y2="125.2" stroke="#444" stroke-width="0.7"/>
<text transform="translate(445.87 129.5) rotate(-30)" x="0" y="0" font-size="4.3" font-weight="bold" text-anchor="end" stroke="#000" stroke-width="0.15">2000</text>
<line x1="470.13" y1="123" x2="470.13" y2="125.2" stroke="#444" stroke-width="0.7"/>
<text transform="translate(469.73 129.5) rotate(-30)" x="0" y="0" font-size="4.3" font-weight="bold" text-anchor="end" stroke="#000" stroke-width="0.15">2020</text>
<line x1="494" y1="123" x2="494" y2="125.2" stroke="#444" stroke-width="0.7"/>
<text transform="translate(493.6 129.5) rotate(-30)" x="0" y="0" font-size="4.3" font-weight="bold" text-anchor="end" stroke="#000" stroke-width="0.15">2040</text>
<line x1="517.87" y1="123" x2="517.87" y2="125.2" stroke="#444" stroke-width="0.7"/>
<text transform="translate(517.47 129.5) rotate(-30)" x="0" y="0" font-size="4.3" font-weight="bold" text-anchor="end" stroke="#000" stroke-width="0.15">2060</text>
<line x1="541.73" y1="123" x2="541.73" y2="125.2" stroke="#444" stroke-width="0.7"/>
<text transform="translate(541.33 129.5) rotate(-30)" x="0" y="0" font-size="4.3" font-weight="bold" text-anchor="end" stroke="#000" stroke-width="0.15">2080</text>
<line x1="565.6" y1="123" x2="565.6" y2="125.2" stroke="#444" stroke-width="0.7"/>
<text transform="translate(565.2 129.5) rotate(-30)" x="0" y="0" font-size="4.3" font-weight="bold" text-anchor="end" stroke="#000" stroke-width="0.15">2100</text>
<text x="390.8" y="14.9" font-size="7.8" font-weight="bold">(b)</text>
<text x="422.3" y="5.6" font-size="5.1" font-weight="bold" textLength="143.2" lengthAdjust="spacingAndGlyphs">Projected annual mean temperature for Nairobi, Kenya</text>
<line x1="418.1" y1="12.5" x2="426.9" y2="12.5" stroke="#40a040" stroke-width="1.0"/>
<text x="430.4" y="14.1" font-size="4.8" fill="#222" textLength="15.6" lengthAdjust="spacingAndGlyphs">ssp126</text>
<line x1="418.1" y1="18.95" x2="426.9" y2="18.95" stroke="#a050c0" stroke-width="1.0"/>
<text x="430.4" y="20.55" font-size="4.8" fill="#222" textLength="15.6" lengthAdjust="spacingAndGlyphs">ssp370</text>
<line x1="418.1" y1="25.4" x2="426.9" y2="25.4" stroke="#ff5050" stroke-width="1.0"/>
<text x="430.4" y="27" font-size="4.8" fill="#222" textLength="15.6" lengthAdjust="spacingAndGlyphs">ssp585</text>
<text x="417" y="35.9" font-size="3.3" font-weight="bold" textLength="34" lengthAdjust="spacingAndGlyphs">CFSR/NCEP historical</text>
<text x="424" y="39.1" font-size="3.3" font-weight="bold">data</text>
<text x="475.9" y="36.1" font-size="3.3" font-weight="bold" textLength="38.9" lengthAdjust="spacingAndGlyphs">CMIP6(GFDL-ESM4) data</text>
<text x="540.4" y="85.5" font-size="3.3" font-weight="bold" textLength="25.6" lengthAdjust="spacingAndGlyphs">Summer mean T</text>
<text transform="translate(402.1 64.1) rotate(-90)" x="0" y="0" font-size="4.7" font-weight="bold" text-anchor="middle" textLength="40.8" lengthAdjust="spacingAndGlyphs">Temperature[K]</text>
<text x="478.5" y="139" font-size="5.0" font-weight="bold" textLength="31.2" lengthAdjust="spacingAndGlyphs">Time(years)</text>
</g>
<g>
<defs><clipPath id="cc"><rect x="18.4" y="267.7" width="163.2" height="119.6"/></clipPath></defs>
<g clip-path="url(#cc)" fill="none" stroke-linejoin="round">
<polyline stroke="#ff0000" stroke-width="1.25" points="25.44,370.99 26.42,368.03 27.9,370.59 28.88,375.52 29.86,381.82 30.97,371.97 32.32,366.65 33.31,374.53 34.29,372.56 35.27,364.68 36.26,359.76 37.24,372.56 38.22,368.62 39.21,364.68 40.19,365.67 41.17,374.53 42.16,376.5 43.14,367.64 44.61,363.7 45.47,366.45 46.46,362.51 47.44,374.33 48.67,357.79 49.65,359.16 50.88,363.5 52.11,364.09 53.22,358.77 54.82,354.63 55.8,359.76 57.03,357.2 58.26,355.62 59.24,358.77 60.47,357.2 61.7,357.79 62.68,355.62 63.67,353.25 64.65,359.76 65.76,368.42 66.86,363.5 67.6,368.03"/>
<polyline stroke="#008000" stroke-width="1.25" points="67.85,358.18 69.32,341.55 70.55,349.57 71.78,344.19 73.01,341.39 74.24,345.79 75.47,344.52 76.7,342.49 77.92,347.45 79.15,337.98 80.38,344.93 81.61,339.46 82.84,341.98 84.07,342.05 85.3,341.29 86.53,337.98 87.76,340.62 88.99,334.58 90.22,337.91 91.45,340.76 92.67,331.94 93.9,341.69 95.13,332.58 96.36,335.27 97.59,342.4 98.82,329.95 100.05,336.15 101.28,336.2 102.51,336.75 103.74,336.24 104.97,339.09 106.2,334.91 107.42,337.11 108.65,333.89 109.88,341.05 111.11,331.22 112.34,335.68 113.57,336.59 114.8,336.57 116.03,333.37 117.26,344.92 118.49,331.75 119.72,340.28 120.95,335.99 122.17,335.61 123.4,340.12 124.63,336.29 125.86,334.19 127.09,335.39 128.32,336.44 129.55,343.97 130.78,332.12 132.01,335.62 133.24,334.79 134.47,339.17 135.7,343.65 136.93,329.72 138.15,340.05 139.38,343.77 140.61,329.16 141.84,342.19 143.07,334.41 144.3,331.37 145.53,322.75 146.76,333.33 147.99,327.53 149.22,325.09 150.45,329.3 151.68,335.41 152.9,332.37 154.13,338.46 155.36,334.59 156.59,333.18 157.82,337.14 159.05,337.21 160.28,333.68 161.51,344.09 162.74,336.95 163.97,339.23 165.2,342.42 166.43,341.19 167.65,347.08 168.88,344.24 170.11,333.89 171.34,337.15 172.57,338.27 173.8,330.71"/>
<polyline stroke="#800080" stroke-width="1.25" points="67.85,360.15 69.32,344.12 70.55,341.75 71.78,351.52 73.01,339.49 74.24,344.17 75.47,344.41 76.7,351.68 77.92,339.03 79.15,338.96 80.38,342.88 81.61,345.94 82.84,337.35 84.07,336.46 85.3,348.99 86.53,331.99 87.76,339.44 88.99,337.65 90.22,332.94 91.45,337.01 92.67,338.43 93.9,335.03 95.13,332.69 96.36,340.2 97.59,335.05 98.82,331.39 100.05,327.76 101.28,339.07 102.51,332.42 103.74,331.76 104.97,327.27 106.2,334.44 107.42,322.55 108.65,337.97 109.88,326.56 111.11,331.18 112.34,322.88 113.57,324.61 114.8,336.18 116.03,325.81 117.26,322.17 118.49,330.87 119.72,331.68 120.95,317.54 122.17,325.18 123.4,322.15 124.63,325.69 125.86,315.88 127.09,324.14 128.32,311.84 129.55,325.44 130.78,316.53 132.01,314.33 133.24,319.86 134.47,309.37 135.7,315.43 136.93,317.36 138.15,310.8 139.38,314.21 140.61,305.83 141.84,317.5 143.07,312.06 144.3,306.68 145.53,303.89 146.76,305.84 147.99,313.25 149.22,305.31 150.45,298.89 151.68,308.89 152.9,307.08 154.13,299.39 155.36,299.08 156.59,303.86 157.82,304.83 159.05,301.09 160.28,292.45 161.51,304.31 162.74,296.31 163.97,296.8 165.2,295.09 166.43,299.09 167.65,291.81 168.88,299.81 170.11,293.96 171.34,298.84 172.57,284.98 173.8,295.79"/>
<polyline stroke="#ff0000" stroke-width="1.25" points="67.85,356.21 69.32,341.66 70.55,341.17 71.78,341.74 73.01,338.31 74.24,351.08 75.47,345.55 76.7,345.26 77.92,333.62 79.15,346.6 80.38,345.62 81.61,339.02 82.84,334.19 84.07,346.96 85.3,339.99 86.53,334.25 87.76,339.08 88.99,336.93 90.22,342.7 91.45,328.26 92.67,335.7 93.9,334.97 95.13,332.93 96.36,343.5 97.59,325.56 98.82,337.08 100.05,328.65 101.28,328.32 102.51,332.15 103.74,333.8 104.97,321.56 106.2,331.15 107.42,324.59 108.65,325.58 109.88,324.53 111.11,333.18 112.34,314.05 113.57,328.88 114.8,318.81 116.03,316.62 117.26,324.69 118.49,326.01 119.72,318.43 120.95,321.66 122.17,314.07 123.4,314.59 124.63,321.96 125.86,307.23 127.09,321.3 128.32,306.38 129.55,313.93 130.78,310.57 132.01,308.96 133.24,309 134.47,308.11 135.7,313.56 136.93,304.29 138.15,300.88 139.38,302.66 140.61,302.67 141.84,303.6 143.07,305.9 144.3,292.48 145.53,303.33 146.76,297.02 147.99,297.87 149.22,294.1 150.45,295.8 151.68,291.69 152.9,298.89 154.13,291.4 155.36,282.17 156.59,297.61 157.82,290.55 159.05,286.59 160.28,286.62 161.51,294.67 162.74,285.34 163.97,282.82 165.2,287.36 166.43,283.36 167.65,276.29 168.88,287.06 170.11,277.54 171.34,282.19 172.57,271.89 173.8,288.45"/>
</g>
<line x1="68" y1="267.7" x2="68" y2="387.3" stroke="#333" stroke-width="1.2" stroke-dasharray="1.9,1.05"/>
<rect x="18.4" y="267.7" width="163.2" height="119.6" fill="none" stroke="#6a6a6a" stroke-width="1.1"/>
<line x1="16.2" y1="271.5" x2="18.4" y2="271.5" stroke="#444" stroke-width="0.7"/>
<text x="15" y="273.05" font-size="4.4" font-weight="bold" text-anchor="end" stroke="#000" stroke-width="0.12">305</text>
<line x1="16.2" y1="291.2" x2="18.4" y2="291.2" stroke="#444" stroke-width="0.7"/>
<text x="15" y="292.75" font-size="4.4" font-weight="bold" text-anchor="end" stroke="#000" stroke-width="0.12">304</text>
<line x1="16.2" y1="310.9" x2="18.4" y2="310.9" stroke="#444" stroke-width="0.7"/>
<text x="15" y="312.45" font-size="4.4" font-weight="bold" text-anchor="end" stroke="#000" stroke-width="0.12">303</text>
<line x1="16.2" y1="330.6" x2="18.4" y2="330.6" stroke="#444" stroke-width="0.7"/>
<text x="15" y="332.15" font-size="4.4" font-weight="bold" text-anchor="end" stroke="#000" stroke-width="0.12">302</text>
<line x1="16.2" y1="350.3" x2="18.4" y2="350.3" stroke="#444" stroke-width="0.7"/>
<text x="15" y="351.85" font-size="4.4" font-weight="bold" text-anchor="end" stroke="#000" stroke-width="0.12">301</text>
<line x1="16.2" y1="370" x2="18.4" y2="370" stroke="#444" stroke-width="0.7"/>
<text x="15" y="371.55" font-size="4.4" font-weight="bold" text-anchor="end" stroke="#000" stroke-width="0.12">300</text>
<line x1="26.3" y1="387.3" x2="26.3" y2="389.5" stroke="#444" stroke-width="0.7"/>
<text transform="translate(25.9 393.8) rotate(-30)" x="0" y="0" font-size="4.3" font-weight="bold" text-anchor="end" stroke="#000" stroke-width="0.15">1980</text>
<line x1="50.88" y1="387.3" x2="50.88" y2="389.5" stroke="#444" stroke-width="0.7"/>
<text transform="translate(50.48 393.8) rotate(-30)" x="0" y="0" font-size="4.3" font-weight="bold" text-anchor="end" stroke="#000" stroke-width="0.15">2000</text>
<line x1="75.47" y1="387.3" x2="75.47" y2="389.5" stroke="#444" stroke-width="0.7"/>
<text transform="translate(75.07 393.8) rotate(-30)" x="0" y="0" font-size="4.3" font-weight="bold" text-anchor="end" stroke="#000" stroke-width="0.15">2020</text>
<line x1="100.05" y1="387.3" x2="100.05" y2="389.5" stroke="#444" stroke-width="0.7"/>
<text transform="translate(99.65 393.8) rotate(-30)" x="0" y="0" font-size="4.3" font-weight="bold" text-anchor="end" stroke="#000" stroke-width="0.15">2040</text>
<line x1="124.63" y1="387.3" x2="124.63" y2="389.5" stroke="#444" stroke-width="0.7"/>
<text transform="translate(124.23 393.8) rotate(-30)" x="0" y="0" font-size="4.3" font-weight="bold" text-anchor="end" stroke="#000" stroke-width="0.15">2060</text>
<line x1="149.22" y1="387.3" x2="149.22" y2="389.5" stroke="#444" stroke-width="0.7"/>
<text transform="translate(148.82 393.8) rotate(-30)" x="0" y="0" font-size="4.3" font-weight="bold" text-anchor="end" stroke="#000" stroke-width="0.15">2080</text>
<line x1="173.8" y1="387.3" x2="173.8" y2="389.5" stroke="#444" stroke-width="0.7"/>
<text transform="translate(173.4 393.8) rotate(-30)" x="0" y="0" font-size="4.3" font-weight="bold" text-anchor="end" stroke="#000" stroke-width="0.15">2100</text>
<text x="12" y="261.9" font-size="7.8" font-weight="bold">(c)</text>
<text x="26.7" y="266.5" font-size="5.1" font-weight="bold" textLength="146.6" lengthAdjust="spacingAndGlyphs">Projected annual mean temperature for Lagos, Nigeria</text>
<line x1="21.5" y1="273.2" x2="31" y2="273.2" stroke="#40a040" stroke-width="1.0"/>
<text x="34.4" y="274.8" font-size="4.8" fill="#222" textLength="15.6" lengthAdjust="spacingAndGlyphs">ssp126</text>
<line x1="21.5" y1="279.8" x2="31" y2="279.8" stroke="#a050c0" stroke-width="1.0"/>
<text x="34.4" y="281.4" font-size="4.8" fill="#222" textLength="15.6" lengthAdjust="spacingAndGlyphs">ssp370</text>
<line x1="21.5" y1="286.4" x2="31" y2="286.4" stroke="#ff5050" stroke-width="1.0"/>
<text x="34.4" y="288" font-size="4.8" fill="#222" textLength="15.6" lengthAdjust="spacingAndGlyphs">ssp585</text>
<text x="21" y="311" font-size="3.3" font-weight="bold" textLength="34.7" lengthAdjust="spacingAndGlyphs">CFSR/NCEP historical</text>
<text x="28" y="314.2" font-size="3.3" font-weight="bold">data</text>
<text x="81.2" y="310.6" font-size="3.3" font-weight="bold" textLength="40.8" lengthAdjust="spacingAndGlyphs">CMIP6(GFDL-ESM4) data</text>
<text x="148.8" y="366.8" font-size="3.3" font-weight="bold" textLength="25.9" lengthAdjust="spacingAndGlyphs">Summer mean T</text>
<text transform="translate(5.1 327) rotate(-90)" x="0" y="0" font-size="4.7" font-weight="bold" text-anchor="middle" textLength="43.1" lengthAdjust="spacingAndGlyphs">Temperature[K]</text>
<text x="84.8" y="404.2" font-size="5.0" font-weight="bold" textLength="31.1" lengthAdjust="spacingAndGlyphs">Time(years)</text>
</g>
<g>
<defs><clipPath id="cd"><rect x="410.7" y="267.7" width="162.6" height="119.1"/></clipPath></defs>
<g clip-path="url(#cd)" fill="none" stroke-linejoin="round">
<polyline stroke="#ff0000" stroke-width="1.25" points="417.36,359.67 418.7,346.14 419.55,355.91 420.78,364.56 422.36,374.34 423.83,358.36 425.05,361.93 426.02,349.71 427.25,364.56 428.47,358.36 429.69,366.82 431.15,359.67 432.37,368.32 433.35,371.89 434.94,355.91 435.91,347.26 437.26,352.15 438.6,361.93 439.58,377.91 440.8,380.54 442.02,349.71 443.24,346.14 444.09,340.5 445.31,351.02 446.53,359.67 447.63,347.26 448.85,343.69 450.08,353.28 451.05,364.56 452.27,354.78 453.25,361.93 454.47,357.04 455.57,364.56 456.67,357.04 457.77,369.45 459.11,379.22 459.84,375.46"/>
<polyline stroke="#008000" stroke-width="1.25" points="459.84,354.16 461.43,323.65 462.65,325.58 463.87,324.14 465.09,327.35 466.31,322.43 467.53,337.86 468.75,314.18 469.98,330.25 471.2,323.45 472.42,316.36 473.64,329.09 474.86,329.25 476.08,318.46 477.3,332.7 478.52,324.1 479.74,325.77 480.96,328.05 482.18,319.63 483.4,334.25 484.62,334.56 485.85,326.27 487.07,331.09 488.29,330.44 489.51,318.59 490.73,331.72 491.95,333.24 493.17,317.56 494.39,332.86 495.61,327.35 496.83,332.63 498.05,330.32 499.28,335.57 500.5,325.27 501.72,333.51 502.94,326.42 504.16,326.81 505.38,335.36 506.6,321.98 507.82,325.91 509.04,323.59 510.26,333.02 511.48,311.92 512.7,327.34 513.93,327.33 515.15,328.71 516.37,319.15 517.59,324.59 518.81,326.42 520.03,321.07 521.25,326.65 522.47,317 523.69,329.39 524.91,321.81 526.13,316.67 527.35,309.06 528.58,330.34 529.8,314.89 531.02,318.55 532.24,305.17 533.46,326.48 534.68,317.21 535.9,322.58 537.12,327.7 538.34,322.55 539.56,320.07 540.78,330.95 542,322.4 543.23,321.24 544.45,319.61 545.67,324.24 546.89,333.38 548.11,324.23 549.33,325.12 550.55,330.73 551.77,336.53 552.99,336.04 554.21,322.45 555.43,332.61 556.65,330.85 557.88,325.62 559.1,313.3 560.32,323.72 561.54,317.55 562.76,333.49 563.98,314.7 565.2,326.82"/>
<polyline stroke="#800080" stroke-width="1.25" points="459.84,357.42 461.43,323.73 462.65,313.8 463.87,331.69 465.09,332.58 466.31,328.78 467.53,326.16 468.75,320.34 469.98,331.62 471.2,331.74 472.42,321.84 473.64,326.83 474.86,325.77 476.08,320.48 477.3,327.11 478.52,321.55 479.74,335.42 480.96,317.61 482.18,318.62 483.4,326.4 484.62,325.96 485.85,322.6 487.07,313.29 488.29,332.31 489.51,317.98 490.73,318.56 491.95,317.13 493.17,323.34 494.39,314.88 495.61,320.54 496.83,313.87 498.05,317.4 499.28,322.02 500.5,311.95 501.72,311.55 502.94,323.67 504.16,312.08 505.38,311.74 506.6,320.96 507.82,310.36 509.04,323.83 510.26,307.77 511.48,308.25 512.7,310.38 513.93,319.06 515.15,305.36 516.37,313.54 517.59,306.75 518.81,302.19 520.03,319.94 521.25,300.03 522.47,315.3 523.69,300.66 524.91,314.28 526.13,312.27 527.35,305.02 528.58,304.97 529.8,307.6 531.02,299.64 532.24,307.95 533.46,312.37 534.68,291.99 535.9,303.01 537.12,303.15 538.34,301.08 539.56,294.23 540.78,304.95 542,301.75 543.23,297.31 544.45,293.24 545.67,309.19 546.89,286.92 548.11,306.73 549.33,299.08 550.55,286.05 551.77,299.43 552.99,300.69 554.21,293.77 555.43,288.72 556.65,290.71 557.88,299.29 559.1,288.78 560.32,291.84 561.54,298.73 562.76,289.13 563.98,295.17 565.2,295.56"/>
<polyline stroke="#ff0000" stroke-width="1.25" points="459.84,365.41 461.43,322.34 462.65,320.74 463.87,325.56 465.09,331.58 466.31,328.35 467.53,321.3 468.75,331.14 469.98,322.7 471.2,325.58 472.42,325.86 473.64,315.55 474.86,336.17 476.08,317.51 477.3,332.17 478.52,311.17 479.74,318.23 480.96,331.47 482.18,316.26 483.4,311.69 484.62,312.59 485.85,313.61 487.07,318.41 488.29,312.71 489.51,315.47 490.73,316.47 491.95,310.56 493.17,328.39 494.39,304.71 495.61,325.23 496.83,304.75 498.05,321.08 499.28,316.01 500.5,308.16 501.72,316.86 502.94,312.47 504.16,317.51 505.38,307.36 506.6,309.68 507.82,308.05 509.04,315.13 510.26,303.66 511.48,314.32 512.7,309.68 513.93,304.85 515.15,302.45 516.37,309.83 517.59,303.27 518.81,302.31 520.03,301.55 521.25,305.96 522.47,292.04 523.69,304.72 524.91,293.48 526.13,304.32 527.35,290.7 528.58,297.69 529.8,298.79 531.02,284.5 532.24,300.32 533.46,283.31 534.68,293.27 535.9,297.16 537.12,291.18 538.34,287.99 539.56,291.69 540.78,287.49 542,289.81 543.23,293.81 544.45,282.19 545.67,297.95 546.89,275.57 548.11,292.29 549.33,286.06 550.55,283.62 551.77,280.21 552.99,290.6 554.21,284.47 555.43,281.56 556.65,291.4 557.88,280.4 559.1,272.37 560.32,291.36 561.54,272.62 562.76,290.44 563.98,270.53 565.2,280.62"/>
</g>
<line x1="410.7" y1="332.6" x2="573.3" y2="332.6" stroke="#2a2aff" stroke-width="1.0" stroke-dasharray="2.3,1.0"/>
<line x1="459.9" y1="267.7" x2="459.9" y2="386.8" stroke="#333" stroke-width="1.2" stroke-dasharray="1.9,1.05"/>
<rect x="410.7" y="267.7" width="162.6" height="119.1" fill="none" stroke="#6a6a6a" stroke-width="1.1"/>
<line x1="408.5" y1="276.2" x2="410.7" y2="276.2" stroke="#444" stroke-width="0.7"/>
<text x="407.3" y="277.75" font-size="4.4" font-weight="bold" text-anchor="end" stroke="#000" stroke-width="0.12">293</text>
<line x1="408.5" y1="295" x2="410.7" y2="295" stroke="#444" stroke-width="0.7"/>
<text x="407.3" y="296.55" font-size="4.4" font-weight="bold" text-anchor="end" stroke="#000" stroke-width="0.12">292</text>
<line x1="408.5" y1="313.8" x2="410.7" y2="313.8" stroke="#444" stroke-width="0.7"/>
<text x="407.3" y="315.35" font-size="4.4" font-weight="bold" text-anchor="end" stroke="#000" stroke-width="0.12">291</text>
<line x1="408.5" y1="332.6" x2="410.7" y2="332.6" stroke="#444" stroke-width="0.7"/>
<text x="407.3" y="334.15" font-size="4.4" font-weight="bold" text-anchor="end" stroke="#000" stroke-width="0.12">290</text>
<line x1="408.5" y1="351.4" x2="410.7" y2="351.4" stroke="#444" stroke-width="0.7"/>
<text x="407.3" y="352.95" font-size="4.4" font-weight="bold" text-anchor="end" stroke="#000" stroke-width="0.12">289</text>
<line x1="408.5" y1="370.2" x2="410.7" y2="370.2" stroke="#444" stroke-width="0.7"/>
<text x="407.3" y="371.75" font-size="4.4" font-weight="bold" text-anchor="end" stroke="#000" stroke-width="0.12">288</text>
<line x1="418.7" y1="386.8" x2="418.7" y2="389" stroke="#444" stroke-width="0.7"/>
<text transform="translate(418.3 393.3) rotate(-30)" x="0" y="0" font-size="4.3" font-weight="bold" text-anchor="end" stroke="#000" stroke-width="0.15">1980</text>
<line x1="443.12" y1="386.8" x2="443.12" y2="389" stroke="#444" stroke-width="0.7"/>
<text transform="translate(442.72 393.3) rotate(-30)" x="0" y="0" font-size="4.3" font-weight="bold" text-anchor="end" stroke="#000" stroke-width="0.15">2000</text>
<line x1="467.53" y1="386.8" x2="467.53" y2="389" stroke="#444" stroke-width="0.7"/>
<text transform="translate(467.13 393.3) rotate(-30)" x="0" y="0" font-size="4.3" font-weight="bold" text-anchor="end" stroke="#000" stroke-width="0.15">2020</text>
<line x1="491.95" y1="386.8" x2="491.95" y2="389" stroke="#444" stroke-width="0.7"/>
<text transform="translate(491.55 393.3) rotate(-30)" x="0" y="0" font-size="4.3" font-weight="bold" text-anchor="end" stroke="#000" stroke-width="0.15">2040</text>
<line x1="516.37" y1="386.8" x2="516.37" y2="389" stroke="#444" stroke-width="0.7"/>
<text transform="translate(515.97 393.3) rotate(-30)" x="0" y="0" font-size="4.3" font-weight="bold" text-anchor="end" stroke="#000" stroke-width="0.15">2060</text>
<line x1="540.78" y1="386.8" x2="540.78" y2="389" stroke="#444" stroke-width="0.7"/>
<text transform="translate(540.38 393.3) rotate(-30)" x="0" y="0" font-size="4.3" font-weight="bold" text-anchor="end" stroke="#000" stroke-width="0.15">2080</text>
<line x1="565.2" y1="386.8" x2="565.2" y2="389" stroke="#444" stroke-width="0.7"/>
<text transform="translate(564.8 393.3) rotate(-30)" x="0" y="0" font-size="4.3" font-weight="bold" text-anchor="end" stroke="#000" stroke-width="0.15">2100</text>
<text x="403.8" y="261.5" font-size="7.8" font-weight="bold">(d)</text>
<text x="418.8" y="266.7" font-size="5.1" font-weight="bold" textLength="146.8" lengthAdjust="spacingAndGlyphs">Projected annual mean temperature for Cape Town, SA</text>
<line x1="413.9" y1="273.1" x2="423.5" y2="273.1" stroke="#40a040" stroke-width="1.0"/>
<text x="426.4" y="274.7" font-size="4.8" fill="#222" textLength="15.6" lengthAdjust="spacingAndGlyphs">ssp126</text>
<line x1="413.9" y1="279.8" x2="423.5" y2="279.8" stroke="#a050c0" stroke-width="1.0"/>
<text x="426.4" y="281.4" font-size="4.8" fill="#222" textLength="15.6" lengthAdjust="spacingAndGlyphs">ssp370</text>
<line x1="413.9" y1="286.5" x2="423.5" y2="286.5" stroke="#ff5050" stroke-width="1.0"/>
<text x="426.4" y="288.1" font-size="4.8" fill="#222" textLength="15.6" lengthAdjust="spacingAndGlyphs">ssp585</text>
<text x="411" y="304.3" font-size="3.3" font-weight="bold" textLength="36" lengthAdjust="spacingAndGlyphs">CFSR/NCEP historical</text>
<text x="418" y="307.5" font-size="3.3" font-weight="bold">data</text>
<text x="473.3" y="304.5" font-size="3.3" font-weight="bold" textLength="39.7" lengthAdjust="spacingAndGlyphs">CMIP6(GFDL-ESM4) data</text>
<text x="540.5" y="331" font-size="3.3" font-weight="bold" textLength="24.5" lengthAdjust="spacingAndGlyphs">Summer mean T</text>
<text transform="translate(397.8 326.8) rotate(-90)" x="0" y="0" font-size="4.7" font-weight="bold" text-anchor="middle" textLength="43.4" lengthAdjust="spacingAndGlyphs">Temperature[K]</text>
<text x="476.1" y="403.8" font-size="5.0" font-weight="bold" textLength="31.8" lengthAdjust="spacingAndGlyphs">Time(years)</text>
</g>
<path d="M254 91 L254 44.1 L188.5 44.1" stroke="#000" stroke-width="1.3" fill="none" stroke-dasharray="2.4,0.75,0.9,0.75"/>
<path d="M182.3 44.1 L189.6 41.8 L189.6 46.4 Z" fill="#000"/>
<path d="M244 192.0 L86 192.3 L86 253.5" stroke="#000" stroke-width="1.3" fill="none" stroke-dasharray="2.4,0.75,0.9,0.75"/>
<path d="M86 259.9 L83.8 252.8 L88.2 252.8 Z" fill="#000"/>
<path d="M362 213.6 L500.6 214.6 L500.6 149" stroke="#000" stroke-width="1.3" fill="none" stroke-dasharray="2.4,0.75,0.9,0.75"/>
<path d="M500.6 142.6 L498.4 149.6 L502.8 149.6 Z" fill="#000"/>
<path d="M294.2 320 L294.2 360.4 L403 360.4" stroke="#000" stroke-width="1.3" fill="none" stroke-dasharray="2.4,0.75,0.9,0.75"/>
<path d="M409.6 360.4 L403.2 358.2 L403.2 362.6 Z" fill="#000"/>
<circle cx="253.7" cy="94.6" r="3.8" fill="#ee1c25"/>
<circle cx="247.3" cy="191.3" r="3.8" fill="#ee1c25"/>
<circle cx="359" cy="213.3" r="3.6" fill="#ee1c25"/>
<circle cx="295.5" cy="317.1" r="3.9" fill="#ee1c25"/>
<text x="256.4" y="104.3" font-size="5.9" font-weight="bold" text-anchor="middle" textLength="20" lengthAdjust="spacingAndGlyphs">Algiers</text>
<text x="250.3" y="203" font-size="5.9" font-weight="bold" text-anchor="middle" textLength="17.4" lengthAdjust="spacingAndGlyphs">Lagos</text>
<text x="362.8" y="223.6" font-size="5.9" font-weight="bold" text-anchor="middle" textLength="20.4" lengthAdjust="spacingAndGlyphs">Nairobi</text>
<text x="273.5" y="324" font-size="5.9" font-weight="bold" text-anchor="middle" textLength="32.2" lengthAdjust="spacingAndGlyphs">Cape Town</text>
</svg></body></html>
